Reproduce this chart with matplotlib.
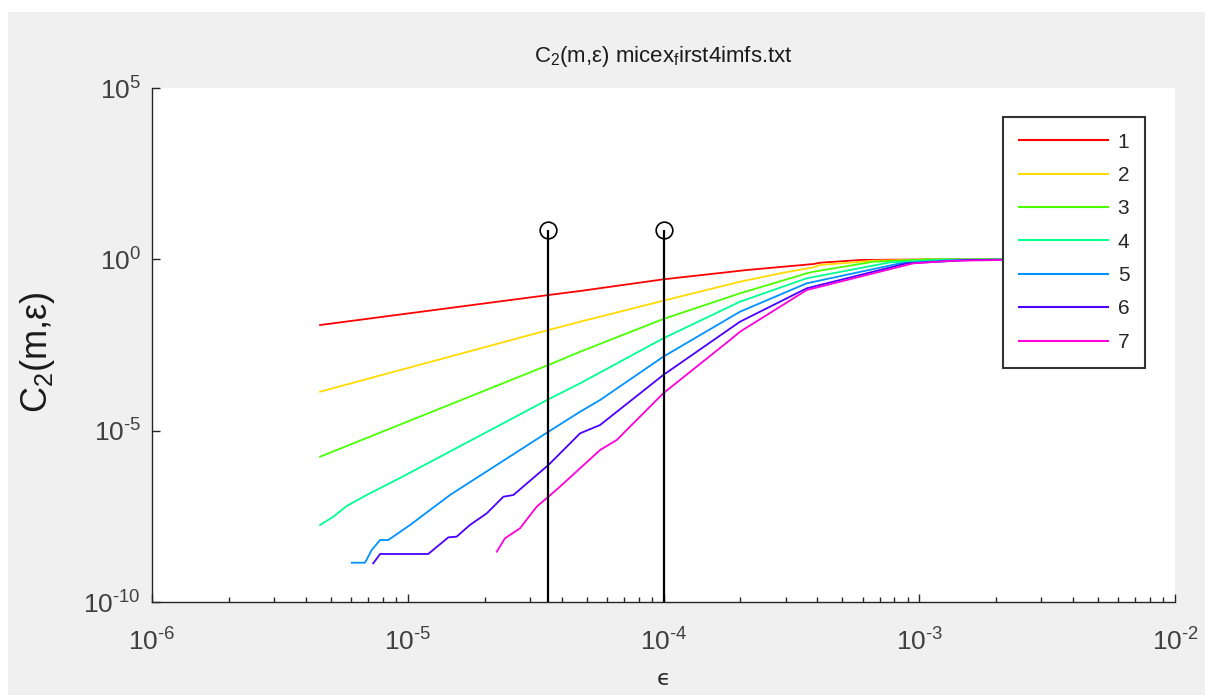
import numpy as np
import matplotlib
matplotlib.use("Agg")
import matplotlib.pyplot as plt
from matplotlib.patches import Rectangle
from matplotlib.ticker import LogLocator, NullLocator, NullFormatter, FixedLocator, FuncFormatter

plt.rcParams['font.family'] = ['Liberation Sans', 'DejaVu Sans']
plt.rcParams['mathtext.fontset'] = 'custom'
plt.rcParams['mathtext.rm'] = 'Liberation Sans'
plt.rcParams['mathtext.it'] = 'Liberation Sans:italic'
plt.rcParams['mathtext.default'] = 'regular'
plt.rcParams['axes.unicode_minus'] = False

# Correlation sum C2(m, eps) per embedding dimension m, as log10 pairs
log_eps_m1 = [-5.343, -4.450, -4.326, -4.001, -3.675, -3.532, -3.414, -3.388, -3.232, -3.100, -2.900, -2.500]
log_c2_m1 = [-1.917, -1.042, -0.924, -0.584, -0.312, -0.216, -0.137, -0.099, -0.020, -0.010, 0.000, 0.000]

log_eps_m2 = [-5.343, -4.450, -4.326, -4.001, -3.701, -3.544, -3.414, -3.388, -3.181, -3.000, -2.500]
log_c2_m2 = [-3.863, -2.063, -1.821, -1.208, -0.654, -0.409, -0.233, -0.166, -0.041, -0.010, 0.000]

log_eps_m3 = [-5.343, -4.450, -4.326, -4.001, -3.701, -3.440, -3.414, -3.180, -2.971, -2.500]
log_c2_m3 = [-5.760, -3.084, -2.696, -1.742, -0.992, -0.409, -0.362, -0.070, 0.000, 0.000]

log_eps_m4 = [-5.343, -5.291, -5.239, -5.161, -5.030, -4.450, -4.326, -4.001, -3.701, -3.440, -3.114, -2.900, -2.500]
log_c2_m4 = [-7.753, -7.511, -7.199, -6.878, -6.380, -4.085, -3.618, -2.305, -1.237, -0.554, -0.088, -0.010, 0.000]

log_eps_m5 = [-5.219, -5.167, -5.141, -5.108, -5.076, -4.991, -4.835, -4.450, -4.326, -4.248, -4.001, -3.701, -3.440, -3.075, -2.850, -2.500]
log_c2_m5 = [-8.853, -8.853, -8.483, -8.191, -8.191, -7.753, -6.878, -5.031, -4.447, -4.106, -2.842, -1.529, -0.700, -0.117, -0.020, 0.000]

log_eps_m6 = [-5.135, -5.108, -4.920, -4.841, -4.809, -4.757, -4.691, -4.626, -4.587, -4.450, -4.326, -4.248, -4.001, -3.701, -3.440, -3.049, -2.800, -2.500]
log_c2_m6 = [-8.871, -8.599, -8.599, -8.112, -8.094, -7.753, -7.412, -6.927, -6.878, -6.002, -5.077, -4.835, -3.376, -1.821, -0.846, -0.117, -0.020, 0.000]

log_eps_m7 = [-4.652, -4.620, -4.561, -4.496, -4.450, -4.405, -4.248, -4.183, -4.001, -3.740, -3.701, -3.440, -3.023, -2.868, -2.500]
log_c2_m7 = [-8.532, -8.141, -7.849, -7.219, -6.927, -6.635, -5.565, -5.273, -3.910, -2.355, -2.113, -0.896, -0.117, -0.041, 0.000]

dims = ['1', '2', '3', '4', '5', '6', '7']
series_eps = [log_eps_m1, log_eps_m2, log_eps_m3, log_eps_m4, log_eps_m5, log_eps_m6, log_eps_m7]
series_c2 = [log_c2_m1, log_c2_m2, log_c2_m3, log_c2_m4, log_c2_m5, log_c2_m6, log_c2_m7]

# Scaling-region markers
stem_eps = [3.55e-5, 1.0e-4]
stem_height = [7.2, 7.2]

# hsv(7) colour map
colors = ['#ff0000', '#ffdb00', '#49ff00', '#00ff92', '#0092ff', '#4900ff', '#ff00db']

fig = plt.figure(figsize=(12.05, 6.95), dpi=100)
fig.patch.set_facecolor('white')
fig.patches.append(Rectangle((8 / 1205, 0), 1 - 8 / 1205, 1 - 12 / 695,
                             transform=fig.transFigure, facecolor='#f0f0f0',
                             edgecolor='none', zorder=-10))

ax = fig.add_axes([152 / 1205, 1 - 602 / 695, (1175 - 152) / 1205, (602 - 88) / 695])
ax.set_facecolor('white')

for lab, ex, cy, col in zip(dims, series_eps, series_c2, colors):
    ax.plot(10 ** np.asarray(ex), 10 ** np.asarray(cy), color=col, lw=1.3, label=lab)

ymin = 1e-10
for xs, hs in zip(stem_eps, stem_height):
    ax.plot([xs, xs], [ymin, hs], color='black', lw=1.6, zorder=5, solid_capstyle='butt')
    ax.plot([xs], [hs], marker='o', ms=12, mfc='none', mec='black', mew=1.2, zorder=6)

ax.set_xscale('log')
ax.set_yscale('log')
ax.set_xlim(1e-6, 1e-2)
ax.set_ylim(1e-10, 1e5)


def pow_label(v, pos):
    e = int(round(np.log10(v)))
    s = str(e).replace('-', '\u2010')
    return r'$\mathregular{10^{%s}}$' % s


ax.xaxis.set_major_locator(LogLocator(base=10, numticks=10))
ax.xaxis.set_minor_locator(LogLocator(base=10, subs=np.arange(2, 10), numticks=20))
ax.xaxis.set_minor_formatter(NullFormatter())
ax.xaxis.set_major_formatter(FuncFormatter(pow_label))
ax.yaxis.set_major_locator(FixedLocator([1e-10, 1e-5, 1e0, 1e5]))
ax.yaxis.set_minor_locator(NullLocator())
ax.yaxis.set_major_formatter(FuncFormatter(pow_label))

axis_col = '#262626'
for side in ['top', 'right']:
    ax.spines[side].set_visible(False)
for side in ['left', 'bottom']:
    ax.spines[side].set_color(axis_col)
    ax.spines[side].set_linewidth(1.0)
ax.tick_params(which='major', direction='in', length=6, width=1.0, colors=axis_col,
               labelsize=19, labelcolor='#404040')
ax.tick_params(axis='x', which='major', pad=19)
ax.tick_params(axis='y', which='major', pad=8)
ax.tick_params(which='minor', direction='in', length=3.5, width=1.0, colors=axis_col)

ax.set_title(r'C$_2$(m,$\epsilon$) micex$_f$irst4imfs.txt', fontsize=16, color='#1a1a1a', pad=19)
ax.set_xlabel('\u03f5', fontsize=16, color=axis_col, labelpad=10, family=['DejaVu Sans'])
ax.set_ylabel(r'C$_2$(m,$\epsilon$)', fontsize=26, color='#1a1a1a')
ax.yaxis.set_label_coords((57 - 152) / 1023, (602 - 352) / 514)

leg = ax.legend(loc='upper right', bbox_to_anchor=(1145 / 1205, 1 - 117 / 695),
                bbox_transform=fig.transFigure, fontsize=15, frameon=True, fancybox=False,
                edgecolor='#333333', framealpha=1.0, handlelength=4.3, labelspacing=0.69,
                borderpad=0.75, handletextpad=0.45, borderaxespad=0)
leg.get_frame().set_linewidth(1.5)
for t in leg.get_texts():
    t.set_color('#262626')
for h in leg.get_lines():
    h.set_linewidth(1.5)

fig.savefig('out.png', dpi=100, facecolor=fig.get_facecolor())
